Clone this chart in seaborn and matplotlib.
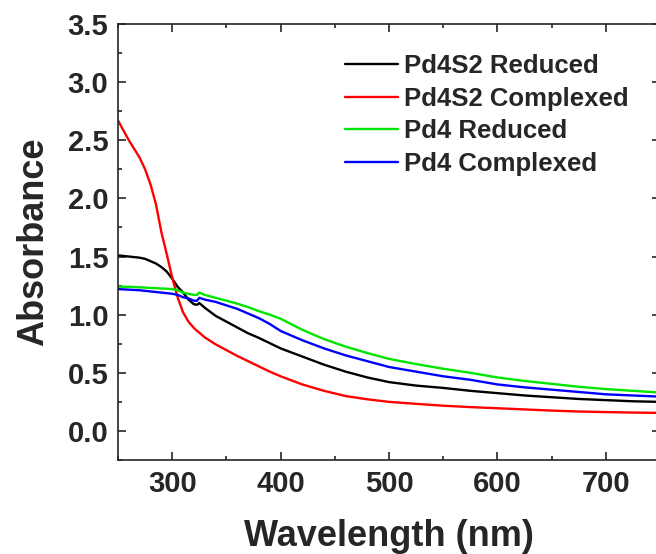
import numpy as np
import pandas as pd
import seaborn as sns
import matplotlib.pyplot as plt
from matplotlib.ticker import MultipleLocator

# wavelengths (nm)
wavelength = [250, 260, 270, 275, 280, 285, 290, 295, 300, 305, 310, 315, 320, 323, 325, 330,
              340, 350, 360, 370, 380, 390, 400, 420, 440, 460, 480, 500, 525,
              550, 575, 600, 625, 650, 675, 700, 725, 750]

pd4s2_reduced = [1.51, 1.50, 1.49, 1.48, 1.46, 1.44, 1.41, 1.37, 1.31, 1.24, 1.19, 1.13, 1.09, 1.085, 1.10, 1.06,
                 0.99, 0.94, 0.89, 0.84, 0.80, 0.755, 0.71, 0.64, 0.57, 0.51, 0.46, 0.42, 0.39,
                 0.37, 0.345, 0.325, 0.305, 0.29, 0.275, 0.265, 0.255, 0.25]
pd4s2_complexed = [2.67, 2.50, 2.35, 2.25, 2.12, 1.95, 1.71, 1.52, 1.32, 1.15, 1.02, 0.94, 0.885, 0.86, 0.845, 0.805,
                   0.745, 0.695, 0.645, 0.60, 0.555, 0.51, 0.47, 0.40, 0.345, 0.30, 0.272, 0.25, 0.233,
                   0.217, 0.205, 0.195, 0.185, 0.175, 0.167, 0.162, 0.158, 0.155]
pd4_reduced = [1.24, 1.24, 1.235, 1.233, 1.23, 1.228, 1.225, 1.223, 1.22, 1.21, 1.19, 1.18, 1.17, 1.17, 1.19, 1.17,
               1.145, 1.12, 1.095, 1.065, 1.03, 1.00, 0.965, 0.87, 0.79, 0.725, 0.67, 0.62, 0.575,
               0.535, 0.50, 0.46, 0.43, 0.405, 0.38, 0.36, 0.345, 0.33]
pd4_complexed = [1.22, 1.215, 1.21, 1.205, 1.20, 1.195, 1.19, 1.185, 1.18, 1.17, 1.15, 1.14, 1.12, 1.12, 1.145, 1.13,
                 1.11, 1.08, 1.05, 1.01, 0.97, 0.92, 0.86, 0.78, 0.71, 0.65, 0.60, 0.55, 0.51,
                 0.47, 0.44, 0.40, 0.375, 0.355, 0.335, 0.315, 0.305, 0.295]

labels = ["Pd4S2 Reduced", "Pd4S2 Complexed", "Pd4 Reduced", "Pd4 Complexed"]
colors = ["#000000", "#FF0000", "#00E600", "#0000FF"]

frames = []
for name, vals in zip(labels, [pd4s2_reduced, pd4s2_complexed, pd4_reduced, pd4_complexed]):
    frames.append(pd.DataFrame({"Wavelength": wavelength, "Absorbance": vals, "Sample": name}))
df = pd.concat(frames, ignore_index=True)

sns.set_style("ticks")
plt.rcParams['font.family'] = ['Liberation Sans', 'DejaVu Sans']
plt.rcParams['font.weight'] = 'bold'

fig = plt.figure(figsize=(6.56, 5.54), dpi=100)
ax = fig.add_axes([118 / 656, 94 / 554, 542 / 656, 436 / 554])

sns.lineplot(data=df, x="Wavelength", y="Absorbance", hue="Sample",
             palette=dict(zip(labels, colors)), linewidth=1.7, ax=ax, legend=True)

ax.set_xlim(250, 750)
ax.set_ylim(-0.25, 3.5)
ax.xaxis.set_major_locator(MultipleLocator(100))
ax.xaxis.set_minor_locator(MultipleLocator(50))
ax.yaxis.set_major_locator(MultipleLocator(0.5))
ax.yaxis.set_minor_locator(MultipleLocator(0.25))
ax.tick_params(which='both', direction='in', top=True, right=True, width=1.2)
ax.tick_params(which='major', length=6, labelsize=21, pad=7)
ax.tick_params(which='minor', length=3)
for s in ax.spines.values():
    s.set_linewidth(1.2)
for lab in ax.get_xticklabels() + ax.get_yticklabels():
    lab.set_fontweight('bold')

ax.set_xlabel("Wavelength (nm)", fontsize=26, fontweight='bold', labelpad=15)
ax.set_ylabel("Absorbance", fontsize=26, fontweight='bold', labelpad=12)

leg = ax.legend(loc='upper left', bbox_to_anchor=(345 / 656, 1 - 54 / 554),
                bbox_transform=fig.transFigure, frameon=False, fontsize=18.5,
                handlelength=2.05, handletextpad=0.25, labelspacing=0.34,
                borderpad=0, borderaxespad=0)
for t in leg.get_texts():
    t.set_fontweight('bold')
for h in leg.get_lines():
    h.set_linewidth(1.7)

fig.savefig("out.png", dpi=100)
